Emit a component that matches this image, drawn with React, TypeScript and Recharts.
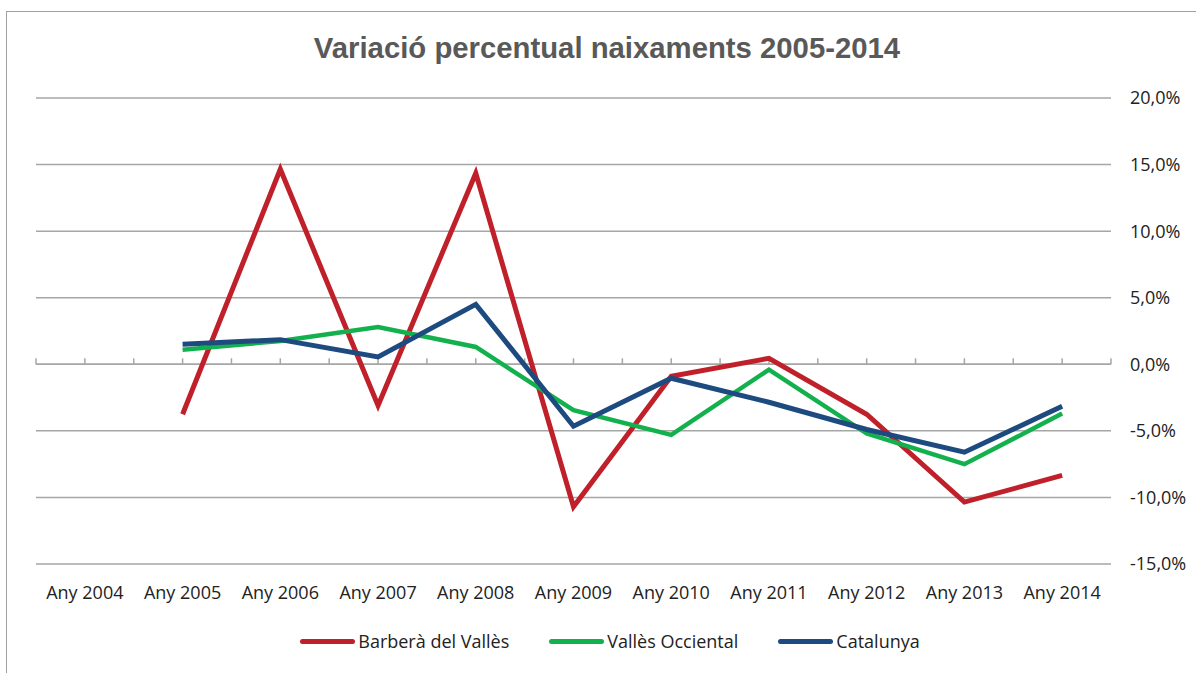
import { CartesianGrid, Line, LineChart, ReferenceLine, XAxis, YAxis } from "recharts";

const years = [
  "Any 2004", "Any 2005", "Any 2006", "Any 2007", "Any 2008", "Any 2009",
  "Any 2010", "Any 2011", "Any 2012", "Any 2013", "Any 2014",
];
const barbera = [null, -3.75, 14.65, -3.1, 14.35, -10.7, -0.9, 0.45, -3.75, -10.35, -8.35];
const valles = [null, 1.1, 1.75, 2.8, 1.3, -3.45, -5.3, -0.4, -5.2, -7.5, -3.7];
const catalunya = [null, 1.5, 1.85, 0.55, 4.5, -4.65, -1.05, -2.85, -4.9, -6.6, -3.15];
const yTicks = [-15, -10, -5, 0, 5, 10, 15, 20];

const series = [
  { key: "barbera", name: "Barberà del Vallès", color: "#c0202a", width: 5 },
  { key: "valles", name: "Vallès Occiental", color: "#13b04e", width: 4.5 },
  { key: "catalunya", name: "Catalunya", color: "#1d4b7f", width: 5 },
];

const data = years.map((year, i) => ({
  year,
  barbera: barbera[i],
  valles: valles[i],
  catalunya: catalunya[i],
}));

const FONT = "'Open Sans', sans-serif";
const PLOT_W = 1075;
const HALF_CAT = PLOT_W / years.length / 2;
const fmtPct = (v: number) => `${v.toFixed(1).replace(".", ",")}%`;

// zero line with Excel-style tick marks every half category
function ZeroAxis(props: any) {
  const { x1, x2, y1 } = props;
  const n = years.length * 2;
  const step = (x2 - x1) / n;
  const ticks = [];
  for (let i = 0; i <= n; i++) {
    const x = x1 + i * step;
    ticks.push(<line key={i} x1={x} x2={x} y1={y1 - 6} y2={y1} stroke="#a6a6a6" strokeWidth={1.5} />);
  }
  return (
    <g>
      <line x1={x1} x2={x2} y1={y1} y2={y1} stroke="#a6a6a6" strokeWidth={1.5} />
      {ticks}
    </g>
  );
}

export default function App() {
  return (
    <div style={{ position: "absolute", left: 0, top: 0, width: 1196, height: 673, overflow: "hidden", background: "#fff" }}>
      <div
        style={{
          position: "absolute",
          left: 6,
          top: 11,
          width: 1220,
          height: 700,
          border: "1.5px solid #a0a0a0",
        }}
      />
      <div
        style={{
          position: "absolute",
          left: 0,
          top: 31,
          width: 1214,
          textAlign: "center",
          fontFamily: "'Liberation Sans', Arial, sans-serif",
          fontWeight: "bold",
          fontSize: 29.3,
          color: "#595959",
        }}
      >
        Variació percentual naixaments 2005-2014
      </div>
      <div style={{ position: "absolute", left: 0, top: 0 }}>
        <LineChart width={1196} height={673} data={data} margin={{ top: 98, right: 10, left: 36, bottom: 69 }}>
          <CartesianGrid vertical={false} stroke="#a6a6a6" strokeWidth={1.5} />
          <XAxis
            dataKey="year"
            axisLine={false}
            tickLine={false}
            height={40}
            tickMargin={16}
            interval={0}
            padding={{ left: HALF_CAT, right: HALF_CAT }}
            tick={{ fontSize: 18, fill: "#222", fontFamily: FONT }}
          />
          <YAxis
            orientation="right"
            domain={[-15, 20]}
            ticks={yTicks}
            interval={0}
            axisLine={false}
            tickLine={false}
            width={75}
            tickMargin={13}
            tickFormatter={fmtPct}
            tick={{ fontSize: 18, fill: "#222", fontFamily: FONT }}
          />
          <ReferenceLine y={0} shape={(p: any) => <ZeroAxis {...p} />} />
          {series.map((s) => (
            <Line
              key={s.key}
              type="linear"
              dataKey={s.key}
              name={s.name}
              stroke={s.color}
              strokeWidth={s.width}
              dot={false}
              activeDot={false}
              connectNulls={false}
              isAnimationActive={false}
            />
          ))}
        </LineChart>
      </div>
      <div
        style={{
          position: "absolute",
          left: 0,
          top: 629,
          width: 1220,
          display: "flex",
          justifyContent: "center",
          gap: 40,
          fontFamily: FONT,
          fontSize: 18,
          color: "#222",
        }}
      >
        {series.map((s) => (
          <div key={s.key} style={{ display: "flex", alignItems: "center" }}>
            <span style={{ display: "inline-block", width: 55, height: 5, borderRadius: 3, background: s.color, marginRight: 3 }} />
            <span>{s.name}</span>
          </div>
        ))}
      </div>
    </div>
  );
}
